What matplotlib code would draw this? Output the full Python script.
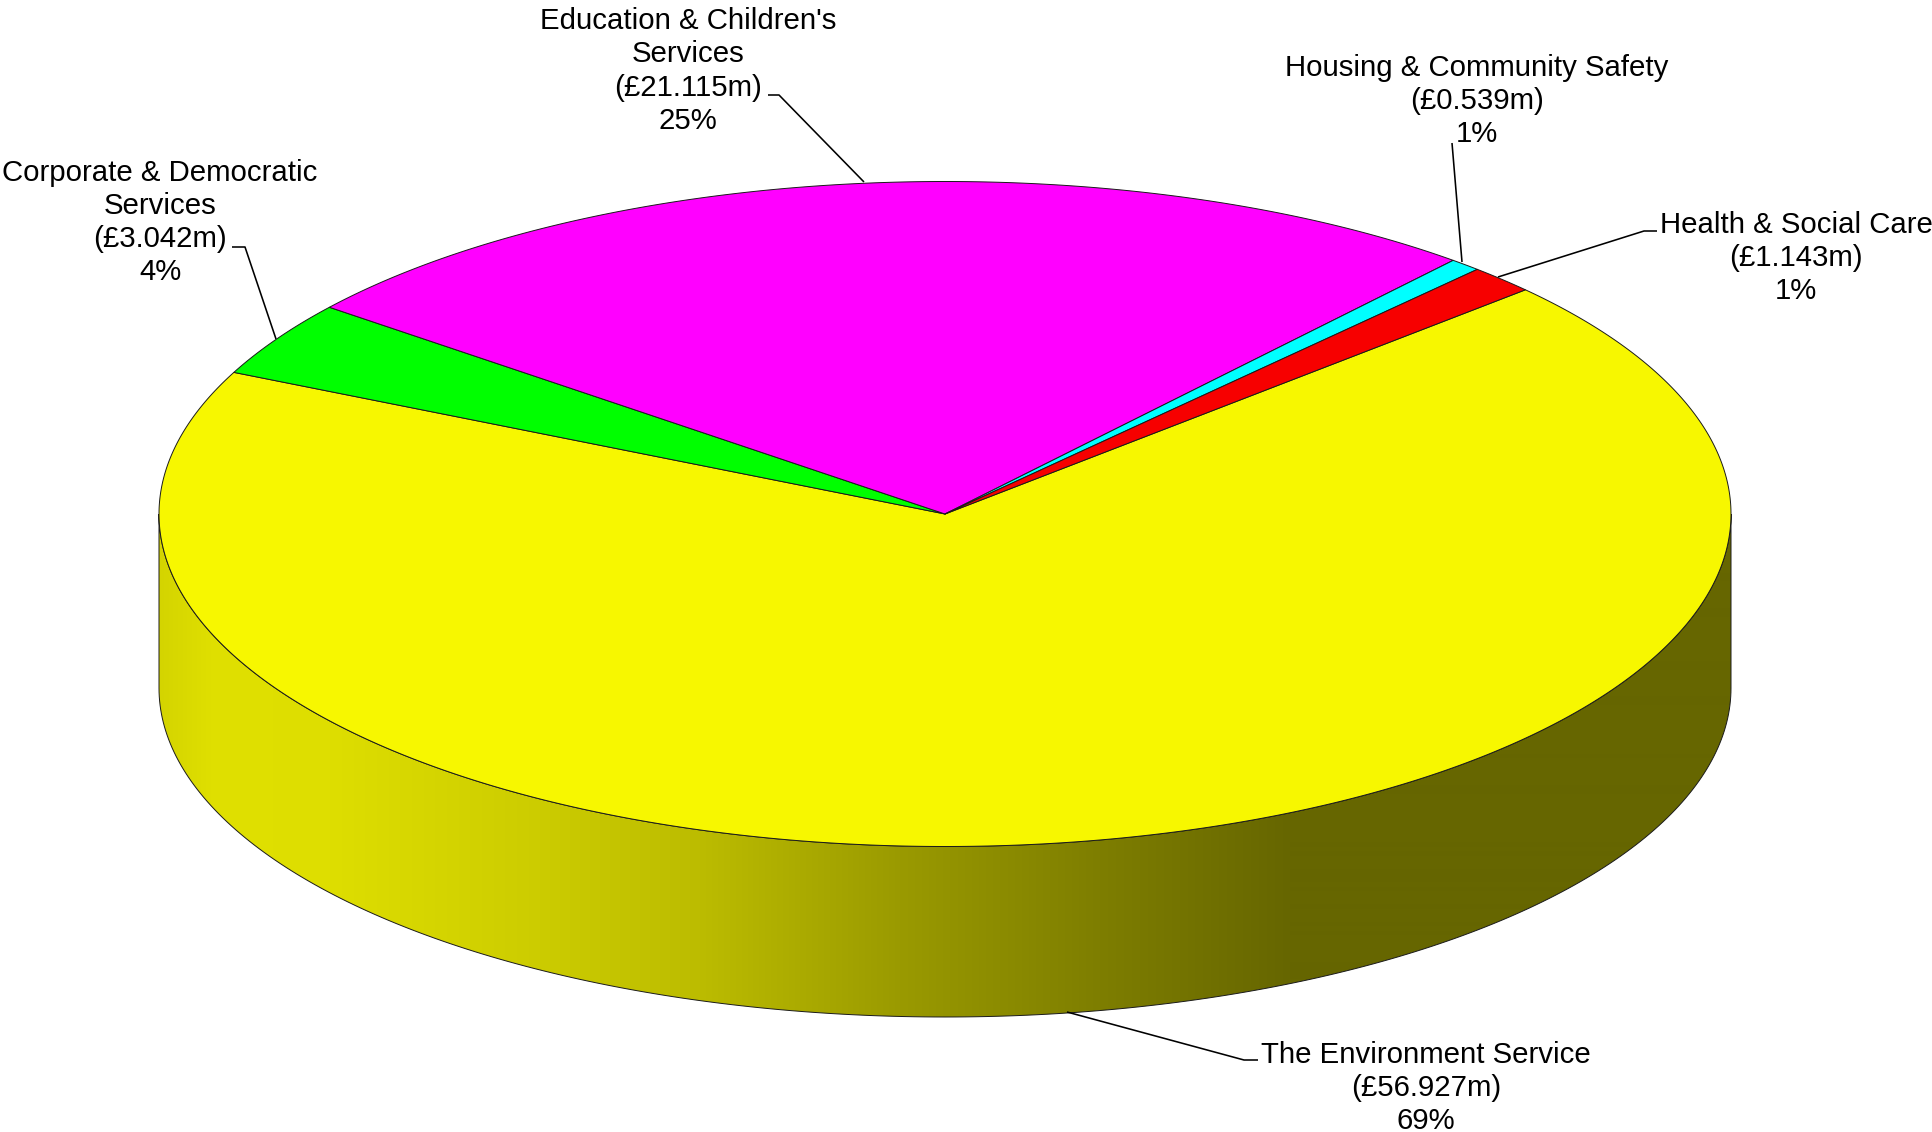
import numpy as np
import matplotlib
matplotlib.use("Agg")
import matplotlib.pyplot as plt
from matplotlib.patches import Polygon, PathPatch
from matplotlib.path import Path

# Budget split by service, in £ million, in clockwise drawing order
services = ["The Environment Service", "Corporate & Democratic\nServices",
            "Education & Children's\nServices", "Housing & Community Safety",
            "Health & Social Care"]
amounts = [56.927, 3.042, 21.115, 0.539, 1.143]
percent_labels = ["69%", "4%", "25%", "1%", "1%"]
top_colors = ["#F7F700", "#00FF00", "#FF00FF", "#00FFFF", "#F70000"]

# Label anchors and leader lines, in figure pixels
label_pos = [(1426, 1085), (160, 220), (688, 68), (1477, 99), (1796, 256)]
leaders = [
    [(1258, 1060), (1244, 1060), (1067, 1012)],
    [(232, 247), (245, 247), (276, 339)],
    [(768, 95), (779, 95), (864, 182)],
    [(1452, 143), (1462, 262)],
    [(1657, 231), (1644, 231), (1498, 277)],
]

# Disc geometry: the lower rim is a slightly flatter ellipse than the upper one
CX, CY = 945, 514
RX, RY = 786, 332.5
LOWER_CY, LOWER_RY = 688, 329
START_DEG = 42.4

# Side wall shading: horizontal position against grey level of the yellow
shade_x = [159, 215, 330, 540, 700, 900, 1100, 1290, 1932]
shade_v = [0xD4, 0xE0, 0xDE, 0xCC, 0xBC, 0x9A, 0x7E, 0x66, 0x66]

plt.rcParams["font.family"] = ["Liberation Sans", "DejaVu Sans"]
fig = plt.figure(figsize=(19.32, 11.32), dpi=100)
ax = fig.add_axes([0, 0, 1, 1])


def rim(t_deg, cy=CY, ry=RY):
    t = np.radians(t_deg)
    return CX + RX * np.cos(t), cy - ry * np.sin(t)


# Side wall with a left-to-right gradient, clipped to the front half of the rim
ts = np.linspace(180, 360, 241)
xs, ys = rim(ts)
xb, yb = rim(ts, LOWER_CY, LOWER_RY)
wall = np.vstack([np.column_stack([xs, ys]),
                  np.column_stack([xb[::-1], yb[::-1]])])
wall_path = Path(np.vstack([wall, wall[0]]), closed=True)

gx = np.arange(0, 1932)
gv = np.interp(gx, shade_x, shade_v) / 255
grad = np.zeros((1, gx.size, 3))
grad[0, :, 0] = gv
grad[0, :, 1] = gv
img = ax.imshow(grad, extent=[0, 1932, 1132, 0], aspect="auto",
                interpolation="bilinear", zorder=1)
outline = PathPatch(wall_path, facecolor="none", edgecolor="#1a1a1a", lw=0.7, zorder=2)
ax.add_patch(outline)
img.set_clip_path(outline)

# Top face slices, clockwise from the start angle
fractions = np.array(amounts) / sum(amounts)
edges = START_DEG - np.concatenate([[0], np.cumsum(fractions)]) * 360
for i, color in enumerate(top_colors):
    arc = np.linspace(edges[i], edges[i + 1], max(int(abs(edges[i + 1] - edges[i]) * 2), 4))
    ax_, ay_ = rim(arc)
    pts = np.vstack([[CX, CY], np.column_stack([ax_, ay_])])
    ax.add_patch(Polygon(pts, closed=True, facecolor=color, edgecolor="#1a1a1a",
                         lw=0.7, joinstyle="round", zorder=3))

# Callout text and leader lines
label_offsets = [3, 2.5, 3, 2, 2]
for name, amount, pct, pos, line, dy in zip(services, amounts, percent_labels,
                                            label_pos, leaders, label_offsets):
    ax.text(pos[0], pos[1] + dy, f"{name}\n(£{amount:.3f}m)\n{pct}", ha="center", va="center",
            multialignment="center", fontsize=21.15, linespacing=1.235, color="black", zorder=5)
    lx, ly = zip(*line)
    ax.plot(lx, ly, color="black", lw=1.15, solid_capstyle="butt", zorder=4)

ax.set_xlim(0, 1932)
ax.set_ylim(1132, 0)
ax.axis("off")
fig.savefig("out.png", dpi=100, facecolor="white")
